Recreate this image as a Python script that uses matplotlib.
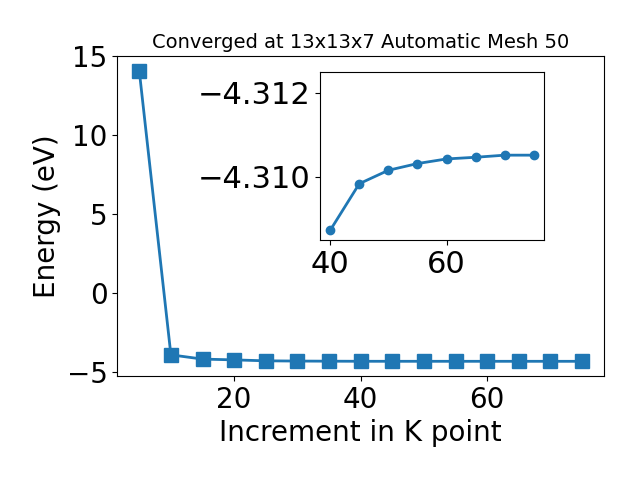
import matplotlib
matplotlib.use("Agg")
import matplotlib.pyplot as plt

kpoints = [5, 10, 15, 20, 25, 30, 35, 40, 45, 50, 55, 60, 65, 70, 75]
energy = [14.1, -3.90, -4.17, -4.22, -4.28, -4.295, -4.303,
          -4.30873, -4.30984, -4.31016, -4.31032, -4.31043, -4.31047, -4.31052, -4.31052]

inset_k = kpoints[7:]
inset_e = energy[7:]

title = "Converged at 13x13x7 Automatic Mesh 50"
xlabel = "Increment in K point"
ylabel = "Energy (eV)"

fig = plt.figure(figsize=(6.4, 4.8), dpi=100)
ax = fig.add_axes([0.183, 0.217, 0.761, 0.666])
ax.plot(kpoints, energy, marker='s', markersize=10, linewidth=2, color='#1f77b4')
ax.set_title(title, fontsize=14)
ax.set_xlabel(xlabel, fontsize=20)
ax.set_ylabel(ylabel, fontsize=20)
ax.set_xticks([20, 40, 60])
ax.set_yticks([-5, 0, 5, 10, 15])
ax.tick_params(labelsize=20)

axin = fig.add_axes([0.5, 0.5, 0.35, 0.35])
axin.plot(inset_k, inset_e, marker='o', markersize=6, linewidth=2, color='#1f77b4')
axin.set_ylim(-4.3085, -4.3125)
axin.set_xlim(38.25, 76.75)
axin.set_xticks([40, 60])
axin.set_yticks([-4.312, -4.310])
axin.set_yticklabels(["\u22124.312", "\u22124.310"])
axin.tick_params(labelsize=22)

fig.savefig("out.png", dpi=100)
